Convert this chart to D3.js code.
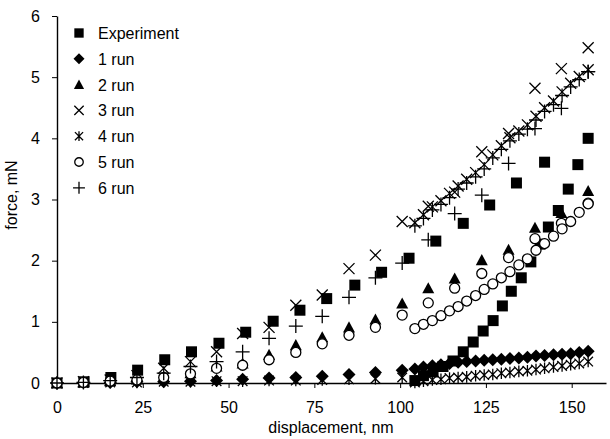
<!DOCTYPE html>
<html>
<head>
<meta charset="utf-8">
<script src="https://cdn.jsdelivr.net/npm/d3@7"></script>
<style>
  body { margin: 0; background: #fff; }
  svg text { font-family: "Liberation Sans", Arial, sans-serif; fill: #000; }
</style>
</head>
<body>
<svg id="chart" width="610" height="439"></svg>
<script>
// x positions (nm)
var sparseX = [0, 7.7, 15.5, 23.3, 31.1, 38.9, 46.5, 54.1, 61.8, 69.6, 77.3, 85.1, 92.8, 100.6, 108.2, 115.9, 123.8, 131.6, 139.3, 147, 154.8];
var denseX = [104.3, 106.8, 109.4, 111.9, 114.4, 116.9, 119.4, 122, 124.5, 127, 129.5, 132, 134.6, 137.1, 139.6, 142.1, 144.7, 147.2, 149.7, 152.2, 154.8];

// Experiment
var expX = [0, 7.9, 15.7, 23.5, 31.4, 39.2, 47.2, 55, 63, 70.8, 78.6, 86.8, 94.6, 102.6, 110.4, 118.4, 126.1, 133.9, 142.1];
var expY = [0, 0.02, 0.09, 0.21, 0.38, 0.51, 0.65, 0.83, 1.01, 1.19, 1.38, 1.6, 1.81, 2.04, 2.32, 2.61, 2.91, 3.27, 3.61];
var expDenseX = [104.3, 106.8, 109.6, 112.5, 115.4, 118.4, 121.3, 124.2, 127.1, 129.8, 132.4, 135.3, 138.1, 140.8, 143.2, 146.1, 149, 151.8, 154.8];
var expDenseY = [0.04, 0.12, 0.18, 0.27, 0.36, 0.51, 0.67, 0.85, 1.02, 1.26, 1.5, 1.72, 1.98, 2.27, 2.55, 2.82, 3.17, 3.57, 4.0];

// runs (force, mN)
var run1Y = [0, 0.01, 0.01, 0.02, 0.02, 0.03, 0.04, 0.06, 0.08, 0.09, 0.11, 0.14, 0.17, 0.21];
var run1DenseY = [0.23, 0.26, 0.28, 0.3, 0.32, 0.34, 0.35, 0.36, 0.37, 0.38, 0.39, 0.4, 0.41, 0.42, 0.44, 0.45, 0.46, 0.47, 0.48, 0.5, 0.52];
var run2Y = [0, 0.01, 0.03, 0.06, 0.1, 0.16, 0.27, 0.32, 0.46, 0.62, 0.75, 0.91, 1.04, 1.3, 1.55, 1.71, 2.01, 2.18, 2.54, 2.78, 3.14];
var run3Y = [0, 0.02, 0.05, 0.12, 0.24, 0.35, 0.51, 0.81, 0.91, 1.27, 1.44, 1.87, 2.09, 2.64, 2.89, 3.12, 3.78, 4.08, 4.82, 5.14, 5.48];
var run3DenseY = [2.62, 2.75, 2.88, 2.98, 3.1, 3.22, 3.33, 3.44, 3.57, 3.73, 3.88, 4.01, 4.12, 4.22, 4.36, 4.5, 4.61, 4.76, 4.9, 5.01, 5.12];
var run4Y = [0, 0, 0.01, 0.01, 0.02, 0.02, 0.03, 0.03, 0.04, 0.04, 0.05, 0.06, 0.07, 0.09];
var run4DenseY = [0.01, 0.03, 0.05, 0.06, 0.08, 0.09, 0.1, 0.12, 0.13, 0.14, 0.16, 0.17, 0.19, 0.2, 0.22, 0.24, 0.26, 0.28, 0.3, 0.32, 0.35];
var run5Y = [0, 0.01, 0.03, 0.05, 0.09, 0.15, 0.24, 0.29, 0.38, 0.5, 0.64, 0.78, 0.91, 1.11, 1.31, 1.55, 1.79, 2.05, 2.36, 2.61, 2.94];
var run5DenseY = [0.89, 0.96, 1.02, 1.1, 1.18, 1.25, 1.34, 1.43, 1.53, 1.62, 1.72, 1.82, 1.93, 2.03, 2.17, 2.28, 2.4, 2.52, 2.64, 2.79, 2.93];
var run6Y = [0, 0.01, 0.04, 0.09, 0.16, 0.27, 0.35, 0.51, 0.73, 0.93, 1.09, 1.4, 1.72, 1.96, 2.34, 2.77, 3.07, 3.59, 4.16, 4.49, 5.09];
var run6DenseY = [2.57, 2.69, 2.83, 2.92, 3.03, 3.17, 3.27, 3.37, 3.5, 3.68, 3.82, 3.96, 4.07, 4.15, 4.3, 4.44, 4.55, 4.7, 4.84, 4.96, 5.09];

var seriesNames = ["Experiment", "1 run", "2 run", "3 run", "4 run", "5 run", "6 run"];
var seriesShapes = ["square", "diamond", "triangle", "times", "asterisk", "circle", "plus"];
var xTicks = [0, 25, 50, 75, 100, 125, 150];
var yTicks = [0, 1, 2, 3, 4, 5, 6];

var zip = function(xs, ys){
  return ys.map(function(y, i){ return [xs[i], y]; });
};
var seriesPoints = [
  zip(expX, expY).concat(zip(expDenseX, expDenseY)),
  zip(sparseX, run1Y).concat(zip(denseX, run1DenseY)),
  zip(sparseX, run2Y),
  zip(sparseX, run3Y).concat(zip(denseX, run3DenseY)),
  zip(sparseX, run4Y).concat(zip(denseX, run4DenseY)),
  zip(sparseX, run5Y).concat(zip(denseX, run5DenseY)),
  zip(sparseX, run6Y).concat(zip(denseX, run6DenseY))
];

var svg = d3.select("#chart");
var x = d3.scaleLinear().domain([0, 160]).range([57, 606]);
var y = d3.scaleLinear().domain([0, 6]).range([383, 16]);

// marker path + style, s = scale
var markerPath = function(shape, s){
  var h;
  switch(shape){
    case "square": h = 5.5*s; return "M"+(-h)+","+(-h)+"H"+h+"V"+h+"H"+(-h)+"Z";
    case "diamond": h = 6.5*s; return "M0,"+(-h)+"L"+h+",0L0,"+h+"L"+(-h)+",0Z";
    case "triangle": h = 6*s; return "M0,"+(-h)+"L"+h+","+(h*0.85)+"L"+(-h)+","+(h*0.85)+"Z";
    case "times": h = 5.5*s; return "M"+(-h)+","+(-h)+"L"+h+","+h+"M"+(-h)+","+h+"L"+h+","+(-h);
    case "asterisk": h = 4.8*s; return "M"+(-h)+","+(-h)+"L"+h+","+h+"M"+(-h)+","+h+"L"+h+","+(-h)+"M0,"+(-h*1.2)+"V"+(h*1.2);
    case "plus": h = 7*s; return "M"+(-h)+",0H"+h+"M0,"+(-h)+"V"+h;
  }
};
var drawMarker = function(sel, shape, s){
  if(shape == "circle"){
    sel.append("circle").attr("r", 5*s)
      .attr("fill", "#fff").attr("stroke", "#000").attr("stroke-width", 1.3);
  } else if(shape == "times" || shape == "asterisk" || shape == "plus"){
    sel.append("path").attr("d", markerPath(shape, s))
      .attr("fill", "none").attr("stroke", "#000").attr("stroke-width", 1.3);
  } else {
    sel.append("path").attr("d", markerPath(shape, s)).attr("fill", "#000");
  }
};

// axes
var xAxis = svg.append("g")
  .attr("transform", "translate(0,"+y(0)+")")
  .call(d3.axisBottom(x).tickValues(xTicks).tickSize(5).tickPadding(14).tickSizeOuter(0));
var yAxis = svg.append("g")
  .attr("transform", "translate("+x(0)+",0)")
  .call(d3.axisLeft(y).tickValues(yTicks).tickFormat(d3.format("d")).tickSize(5).tickPadding(12).tickSizeOuter(0));
[xAxis, yAxis].forEach(function(a){
  a.select(".domain").attr("stroke", "#000").attr("stroke-width", 1.4);
  a.selectAll(".tick line").attr("stroke", "#000").attr("stroke-width", 1);
  a.selectAll(".tick text").attr("font-size", 16).attr("font-family", "Liberation Sans, Arial, sans-serif");
});

svg.append("text")
  .attr("x", 331).attr("y", 433)
  .attr("text-anchor", "middle")
  .attr("font-size", 16)
  .text("displacement, nm");
svg.append("text")
  .attr("transform", "translate(17,195) rotate(-90)")
  .attr("text-anchor", "middle")
  .attr("font-size", 16)
  .text("force, mN");

// points
var plot = svg.append("g");
seriesPoints.forEach(function(pts, k){
  var g = plot.append("g").attr("class", "series-"+k);
  g.selectAll(".pt")
    .data(pts)
    .enter()
    .append("g")
    .attr("class", "pt")
    .attr("transform", function(d){ return "translate("+x(d[0])+","+y(d[1])+")"; })
    .each(function(){ drawMarker(d3.select(this), seriesShapes[k], 1); });
});

// legend
var legend = svg.append("g").attr("transform", "translate(79,33)");
var items = legend.selectAll(".legend-item")
  .data(seriesNames)
  .enter()
  .append("g")
  .attr("class", "legend-item")
  .attr("transform", function(d,i){ return "translate(0,"+(i*25.8)+")"; });
items.each(function(d,i){ drawMarker(d3.select(this), seriesShapes[i], 0.85); });
items.append("text")
  .attr("x", 19).attr("y", 6)
  .attr("font-size", 16)
  .text(function(d){ return d; });
</script>
</body>
</html>
